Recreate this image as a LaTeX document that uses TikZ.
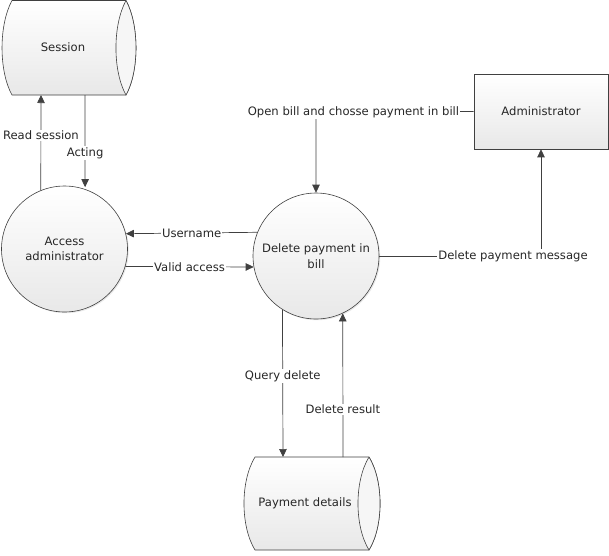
\documentclass[tikz,border=0pt]{standalone}
\usepackage{fontspec}
\setmainfont{DejaVu Sans}
\usetikzlibrary{arrows.meta,shadows,calc}
\definecolor{ln}{HTML}{404040}
\definecolor{tx}{HTML}{262626}
\tikzset{
  every node/.style={font=\fontsize{11.6}{15.5}\selectfont, text=tx},
  flow/.style={draw=ln, line width=0.7pt, -{Triangle[length=8pt,width=7.5pt]}},
  lbl/.style={fill=white, inner sep=1pt},
  proc/.style={circle, draw=ln, line width=0.6pt, minimum size=126pt, inner sep=0pt, align=center,
    top color=white, bottom color=gray!18,
    drop shadow={opacity=0.18, shadow xshift=1.2pt, shadow yshift=-1.2pt}},
  ent/.style={rectangle, draw=ln, line width=0.6pt, minimum width=134pt, minimum height=75pt,
    top color=white, bottom color=gray!18,
    drop shadow={opacity=0.18, shadow xshift=1.2pt, shadow yshift=-1.2pt}},
  store/.style={draw=ln, line width=0.6pt, top color=white, bottom color=gray!18},
  storecap/.style={draw=ln, line width=0.6pt, fill=gray!7},
}
\begin{document}
\begin{tikzpicture}[x=1pt,y=-1pt]
\useasboundingbox (0,0) rectangle (609,555);
% Session data store
\path[store] (12,0.5) .. controls (-1.3,25) and (-1.3,71) .. (12,95)
  -- (126,95) .. controls (139.3,71) and (139.3,25) .. (126,0.5) -- cycle;
\path[storecap] (126,0.5) .. controls (112.6,25) and (112.6,71) .. (126,95)
  .. controls (139.3,71) and (139.3,25) .. (126,0.5);
\node (session) at (63,47.5) {Session};
% Payment details data store
\path[store] (255,457) .. controls (240.3,481) and (240.3,526) .. (255,550)
  -- (369,550) .. controls (383.7,526) and (383.7,481) .. (369,457) -- cycle;
\path[storecap] (369,457) .. controls (354.3,481) and (354.3,526) .. (369,550)
  .. controls (383.7,526) and (383.7,481) .. (369,457);
\node (payment) at (305,503.5) {Payment details};
% processes
\node[proc] (access) at (64.5,249) {Access\\administrator};
\node[proc] (delete) at (316,256) {Delete payment in\\bill};
% entity
\node[ent] (admin) at (541,111.5) {Administrator};
% connectors
\coordinate (rs) at (41,95);
\coordinate (ac) at (85,95);
\draw[flow] (access.112) -- (rs) node[pos=0.58, lbl] {Read session};
\draw[flow] (ac) -- ($(access.71)+(0,-2)$) node[pos=0.63, lbl] {Acting};
\draw[flow] (delete.158.6) -- (access.14.7) node[pos=0.5, lbl] {Username};
\draw[flow] (access.-16.6) -- (delete.190) node[pos=0.5, lbl] {Valid access};
\coordinate (ob) at (316,112);
\draw[flow] (admin.west) -- (ob) -- (delete.north);
\node[lbl] (oblbl) at (353.5,112) {Open bill and chosse payment in bill};
\draw[flow] (delete.east) -| (admin.south);
\node[lbl] (dpm) at (513,256) {Delete payment message};
\coordinate (qd) at (283,457);
\coordinate (dr) at (343,457);
\draw[flow] (delete.238.4) -- (qd) node[pos=0.45, lbl] {Query delete};
\draw[flow] (dr) -- (delete.295.4) node[pos=0.33, lbl] {Delete result};
\end{tikzpicture}
\end{document}
